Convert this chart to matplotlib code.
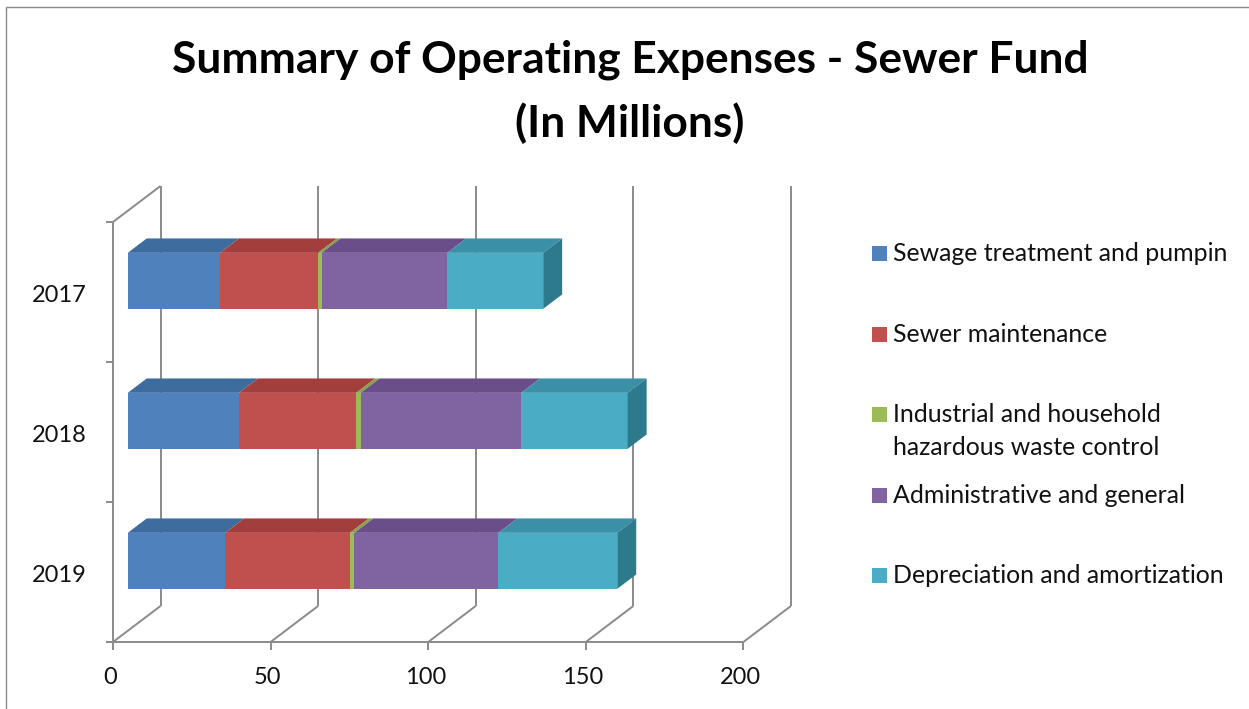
import numpy as np
import matplotlib
matplotlib.use("Agg")
import matplotlib.pyplot as plt
from matplotlib.patches import Polygon, Rectangle
from matplotlib import transforms

# data, categories listed bottom to top
years = ['2019', '2018', '2017']
sewage = [30.9, 35.3, 29.3]
maintenance = [39.6, 37.2, 31.1]
hazardous = [1.4, 1.4, 1.1]
admin = [45.7, 50.9, 39.9]
depreciation = [37.7, 33.8, 30.4]
series_names = ['Sewage treatment and pumpin', 'Sewer maintenance',
                'Industrial and household\nhazardous waste control',
                'Administrative and general', 'Depreciation and amortization']
x_ticks = [0, 50, 100, 150, 200]

front_cols = ['#4F81BD', '#C0504D', '#9BBB59', '#8064A2', '#4BACC6']
top_cols = ['#3E6C9F', '#A23E3B', '#84A44A', '#6A4E8A', '#3B8FA6']
side_cols = ['#33628F', '#8E3533', '#748F40', '#5A4277', '#2E7A8D']
line_col = '#8A8A8A'

W, H = 1249, 709
fig = plt.figure(figsize=(W / 100, H / 100), dpi=100)
fig.patch.set_facecolor('white')

# pixel geometry of the fake 3d box
X0, Y0 = 113, 642       # front origin in pixels
PX, PY = 3.152, 140.0   # px per value unit, px per category
DX, DY = 47.5 / PX, 36.0 / PY   # full depth offset in data units
F0, FD, BH = 0.31, 0.40, 0.40   # bar front depth, bar depth, bar height

L, R, T, B = 95, 815, 170, 660
ax = fig.add_axes([L / W, (H - B) / H, (R - L) / W, (B - T) / H])
ax.set_xlim((L - X0) / PX, (R - X0) / PX)
ax.set_ylim((Y0 - B) / PY, (Y0 - T) / PY)
ax.axis('off')

ncat = len(years)
lk = dict(color=line_col, lw=1.4, solid_capstyle='butt', zorder=1)

# back wall gridlines, floor diagonals and front ticks
for v in x_ticks:
    ax.plot([v + DX, v + DX], [DY, ncat + DY], **lk)
    ax.plot([v, v + DX], [0, DY], **lk)
    ax.plot([v, v], [0, -8 / PY], **lk)
ax.plot([-7 / PX, x_ticks[-1]], [0, 0], **lk)
ax.plot([0, 0], [0, ncat], **lk)
ax.plot([0, DX], [ncat, ncat + DY], **lk)
for k in range(ncat + 1):
    ax.plot([-7 / PX, 0], [k, k], **lk)

# stacked 3d bars
data = np.array([sewage, maintenance, hazardous, admin, depreciation])
for i in range(ncat):
    yc = i + 0.5 + F0 * DY
    yt = yc + BH / 2
    yb = yc - BH / 2
    cum = F0 * DX
    for s in range(len(data)):
        w = data[s][i]
        ax.barh(yc, w, left=cum, height=BH, color=front_cols[s], zorder=3,
                linewidth=0)
        x0, x1 = cum, cum + w
        ax.add_patch(Polygon([(x0, yt), (x1, yt), (x1 + FD * DX, yt + FD * DY),
                              (x0 + FD * DX, yt + FD * DY)],
                             closed=True, color=top_cols[s], lw=0, zorder=3))
        cum = x1
    ax.add_patch(Polygon([(cum, yb), (cum, yt), (cum + FD * DX, yt + FD * DY),
                          (cum + FD * DX, yb + FD * DY)],
                         closed=True, color=side_cols[-1], lw=0, zorder=3))

font = 'Lato'
# category labels
ytr = transforms.offset_copy(ax.transData, fig=fig, x=0, y=-10.5, units='dots')
for i, yr in enumerate(years):
    ax.text(-26 / PX, i + 0.5, yr, transform=ytr, ha='right', va='baseline',
            fontsize=17, family=font, color='#111111')
# value labels
xtr = transforms.offset_copy(ax.transData, fig=fig, x=-3, y=-42, units='dots')
for v in x_ticks:
    ax.text(v, 0, str(v), transform=xtr, ha='center', va='baseline',
            fontsize=17, family=font, color='#111111')

rend = fig.canvas.get_renderer()


def fit(t, target_px):
    w = t.get_window_extent(renderer=rend).width
    t.set_fontsize(t.get_fontsize() * target_px / w)
    return t.get_fontsize()


# title
t1 = fig.text(630 / W, 1 - 73 / H, 'Summary of Operating Expenses - Sewer Fund',
              ha='center', va='baseline', fontsize=30, fontweight='bold',
              family=font, color='black')
fs = fit(t1, 914)
fig.text(630 / W, 1 - 137 / H, '(In Millions)', ha='center', va='baseline',
         fontsize=fs, fontweight='bold', family=font, color='black')

# legend
base = [261, 341.7, 421.7, 502.7, 582.7]
t0 = fig.text(893 / W, 1 - base[0] / H, series_names[0], ha='left',
              va='baseline', fontsize=17, family=font, color='#111111')
lfs = fit(t0, 335)
for s, name in enumerate(series_names):
    fig.add_artist(Rectangle((872 / W, 1 - base[s] / H), 15 / W, 15 / H,
                             transform=fig.transFigure, color=front_cols[s], lw=0))
    if s == 0:
        continue
    for j, line in enumerate(name.split('\n')):
        fig.text(893 / W, 1 - (base[s] + 33.3 * j) / H, line, ha='left',
                 va='baseline', fontsize=lfs, family=font, color='#111111')

# outer chart border
fig.add_artist(Rectangle((5.5 / W, -0.05), 1.1, 1 - 7 / H + 0.05,
                         transform=fig.transFigure, fill=False,
                         edgecolor='#8A8A8A', lw=1.0))

fig.savefig('out.png', dpi=100)
